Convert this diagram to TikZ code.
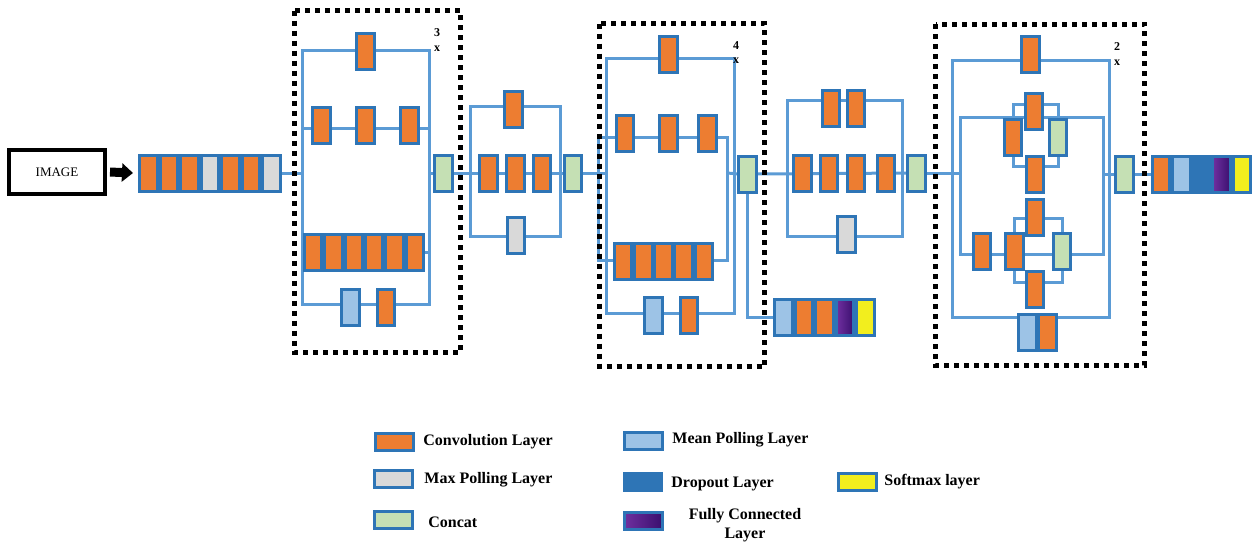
\documentclass[tikz,border=0pt]{standalone}
\usepackage{fontspec}
\setmainfont{Liberation Serif}
\usetikzlibrary{arrows.meta,backgrounds}
\definecolor{bd}{HTML}{2E75B6}
\definecolor{ln}{HTML}{5B9BD5}
\definecolor{org}{HTML}{ED7D31}
\definecolor{gry}{HTML}{D9D9D9}
\definecolor{grn}{HTML}{C5E0B4}
\definecolor{lbl}{HTML}{9DC3E6}
\definecolor{ylw}{HTML}{F2EE1E}
\definecolor{pur1}{HTML}{7030A0}
\definecolor{pur2}{HTML}{3A0F6E}
\tikzset{
 cell/.style={draw=bd, line width=1.5pt, minimum width=8.75pt, minimum height=18pt, inner sep=0pt, outer sep=0pt},
 conv/.style={cell, fill=org},
 maxp/.style={cell, fill=gry},
 meanp/.style={cell, fill=lbl},
 cat/.style={cell, fill=grn},
 drop/.style={cell, fill=bd},
 fc/.style={cell, left color=pur1, right color=pur2},
 soft/.style={cell, fill=ylw},
 wire/.style={draw=ln, line width=1.5pt},
 rep/.style={draw=black, line width=2.5pt, dash pattern=on 2.5pt off 2.5pt},
 num/.style={font=\bfseries\fontsize{6}{6}\selectfont, inner sep=0pt},
 leg/.style={font=\bfseries\fontsize{8}{9.5}\selectfont, anchor=west, inner sep=0pt},
 lbox/.style={draw=bd, line width=1.5pt, minimum width=19pt, minimum height=8.5pt, inner sep=0pt, outer sep=0pt},
}
\begin{document}
\begin{tikzpicture}[x=0.5pt,y=-0.5pt]
\useasboundingbox (0,0) rectangle (1257,543);

% image and arrow
\node[draw=black, line width=2pt, minimum width=48pt, minimum height=22pt, inner sep=0pt, outer sep=0pt, font=\fontsize{6.5}{7}\selectfont] (img) at (57,172) {IMAGE};

% initial stack
\node[conv] (s01) at (148.25,173) {};
\node[conv] (s02) at (168.75,173) {};
\node[conv] (s03) at (189.25,173) {};
\node[maxp] (s04) at (209.75,173) {};
\node[conv] (s05) at (230.25,173) {};
\node[conv] (s06) at (250.75,173) {};
\node[maxp] (s07) at (271.25,173) {};
\draw[-{Triangle[length=5.5pt,width=9pt]}, line width=4.5pt] ([xshift=2.5pt]img.east) -- ([xshift=-3.25pt]s01.west);

% ---------- block 1
\node[conv] (b1t) at (365.5,51.5) {};
\node[conv] (b1a) at (321.5,125) {};
\node[conv] (b1b) at (365.5,125) {};
\node[conv] (b1c) at (409.5,125) {};
\node[conv] (b1s1) at (313.2,252) {};
\node[conv] (b1s2) at (333.5,252) {};
\node[conv] (b1s3) at (353.9,252) {};
\node[conv] (b1s4) at (374.2,252) {};
\node[conv] (b1s5) at (394.5,252) {};
\node[conv] (b1s6) at (414.9,252) {};
\node[meanp] (b1m) at (350.5,307) {};
\node[conv] (b1n) at (386,307) {};
\node[cat] (c1) at (443.5,173) {};
\node[num] (n1a) at (437,33) {3};
\node[num] (n1b) at (437,49) {x};
\coordinate (b1nw) at (302,50);
\coordinate (b1se) at (429,304);

% ---------- block 2
\node[conv] (b2t) at (513.5,109) {};
\node[conv] (b2a) at (488.5,173) {};
\node[conv] (b2b) at (515.5,173) {};
\node[conv] (b2c) at (542,173) {};
\node[maxp] (b2g) at (516,235.5) {};
\node[cat] (c2) at (573,173) {};

% ---------- block 3
\node[conv] (b3t) at (668.5,54.5) {};
\node[conv] (b3a) at (625,133.5) {};
\node[conv] (b3b) at (668.5,133.5) {};
\node[conv] (b3c) at (707.5,133.5) {};
\node[conv] (b3s1) at (623.1,261) {};
\node[conv] (b3s2) at (643.3,261) {};
\node[conv] (b3s3) at (663.5,261) {};
\node[conv] (b3s4) at (683.7,261) {};
\node[conv] (b3s5) at (703.9,261) {};
\node[meanp] (b3m) at (653.5,315) {};
\node[conv] (b3n) at (689,315) {};
\node[cat] (c3) at (747.5,174) {};
\node[num] (n3a) at (736,46) {4};
\node[num] (n3b) at (736,61) {x};
% auxiliary classifier
\node[meanp] (a1) at (783.3,317.5) {};
\node[conv] (a2) at (803.9,317.5) {};
\node[conv] (a3) at (824.5,317.5) {};
\node[fc] (a4) at (845.1,317.5) {};
\node[soft] (a5) at (865.7,317.5) {};

% ---------- block 4
\node[conv] (b4t1) at (831,108) {};
\node[conv] (b4t2) at (856,108) {};
\node[conv] (b4a) at (802.5,173) {};
\node[conv] (b4b) at (829,173) {};
\node[conv] (b4c) at (856,173) {};
\node[conv] (b4d) at (886,173) {};
\node[maxp] (b4g) at (846.5,234.5) {};
\node[cat] (c4) at (916.5,173) {};

% ---------- block 5
\node[conv] (b5t) at (1030.5,54) {};
\node[conv] (u1) at (1034,111) {};
\node[conv] (u2) at (1013,137.5) {};
\node[cat] (u3) at (1058,137.5) {};
\node[conv] (u4) at (1035,174.5) {};
\node[conv] (l1) at (1035,217) {};
\node[conv] (l2) at (982,251) {};
\node[conv] (l3) at (1014.5,251) {};
\node[cat] (l4) at (1062,251) {};
\node[conv] (l5) at (1035,289.5) {};
\node[meanp] (b5m) at (1027.5,332) {};
\node[conv] (b5n) at (1047.5,332) {};
\node[cat] (c5) at (1124.5,174) {};
\node[num] (n5a) at (1117,47) {2};
\node[num] (n5b) at (1117,63) {x};

% final classifier
\node[conv] (f1) at (1161.1,174) {};
\node[meanp] (f2) at (1181.3,174) {};
\node[drop] (f3) at (1201.5,174) {};
\node[fc] (f4) at (1221.7,174) {};
\node[soft] (f5) at (1241.9,174) {};

% ---------- wires (behind)
\begin{scope}[on background layer]
% block 1
\draw[wire] (s07.east) -- (302,173);
\draw[wire] (b1nw) rectangle (b1se);
\draw[wire] (302,128) -- (429,128);
\draw[wire] (302,252) -- (429,252);
\draw[wire] (429,173) -- (c1.west);
% block 2
\draw[wire] (c1.east) -- (c2.west);
\draw[wire] (470,106) rectangle (560,236);
% block 3
\draw[wire] (c2.east) -- (606,173);
\draw[wire] (606,58) rectangle (734,313);
\draw[wire] (598,137) rectangle (727,260);
\draw[wire] (727,173) -- (c3.west);
\draw[wire] (c3.south) |- (a1.west);
% block 4
\draw[wire] (c3.east) -- (c4.west);
\draw[wire] (787,100) rectangle (902,236);
% block 5
\draw[wire] (c4.east) -- (960,173);
\draw[wire] (952,60) rectangle (1109,317);
\draw[wire] (960,117) rectangle (1103,254);
\draw[wire] (1103,174) -- (c5.west);
\draw[wire] (1013,118) -- (1013,104) -- (1058,104) -- (1058,118);
\draw[wire] (1013,157) -- (1013,166) -- (1058,166) -- (1058,157);
\draw[wire] (1014.5,232) -- (1014.5,218) -- (1062,218) -- (1062,232);
\draw[wire] (1014.5,270) -- (1014.5,282) -- (1062,282) -- (1062,270);
\draw[wire] (c5.east) -- (f1.west);
\end{scope}

% repeat boxes
\draw[rep] (294.5,10.5) rectangle (460.5,352);
\draw[rep] (599.5,23.5) rectangle (764.5,366.5);
\draw[rep] (935.5,24) rectangle (1144.5,365.5);

% ---------- legend
\node[lbox, fill=org] (lg1) at (394.5,442) {};
\node[leg] (lt1) at (423,442) {Convolution Layer};
\node[lbox, fill=gry] (lg2) at (393.5,479) {};
\node[leg] (lt2) at (424,480) {Max Polling Layer};
\node[lbox, fill=grn] (lg3) at (393.5,519.5) {};
\node[leg] (lt3) at (428,522) {Concat};
\node[lbox, fill=lbl] (lg4) at (643,441) {};
\node[leg] (lt4) at (672,440) {Mean Polling Layer};
\node[lbox, draw=none, fill=bd, minimum width=20pt, minimum height=10pt] (lg5) at (643,482) {};
\node[leg] (lt5) at (671,484) {Dropout Layer};
\node[lbox, left color=pur1, right color=pur2] (lg6) at (643,521) {};
\node[leg, anchor=center, align=center] (lt6) at (745,525) {Fully Connected\\Layer};
\node[lbox, fill=ylw] (lg7) at (857.5,482) {};
\node[leg] (lt7) at (884,482) {Softmax layer};
\end{tikzpicture}
\end{document}
